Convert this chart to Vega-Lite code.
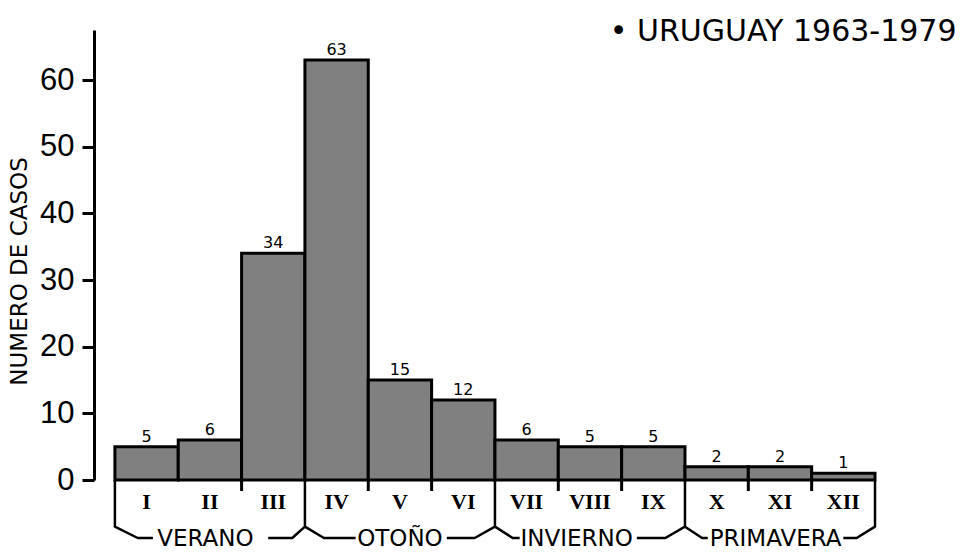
{
  "$schema": "https://vega.github.io/schema/vega-lite/v6.json",
  "autosize": {"type": "none"},
  "padding": {"left": 94, "top": 30, "right": 92, "bottom": 74},
  "width": 781,
  "height": 450,
  "background": "white",
  "config": {"view": {"stroke": null}, "font": "DejaVu Sans"},
  "title": {
    "text": "• URUGUAY 1963-1979",
    "anchor": "end",
    "orient": "top",
    "offset": 0,
    "dx": 80,
    "dy": 41,
    "baseline": "alphabetic",
    "font": "DejaVu Sans",
    "fontSize": 30,
    "fontWeight": "normal",
    "color": "black"
  },
  "datasets": {
    "meses": [
      {"mes": "I", "desde": 0, "hasta": 1, "centro": 0.5, "casos": 5},
      {"mes": "II", "desde": 1, "hasta": 2, "centro": 1.5, "casos": 6},
      {"mes": "III", "desde": 2, "hasta": 3, "centro": 2.5, "casos": 34},
      {"mes": "IV", "desde": 3, "hasta": 4, "centro": 3.5, "casos": 63},
      {"mes": "V", "desde": 4, "hasta": 5, "centro": 4.5, "casos": 15},
      {"mes": "VI", "desde": 5, "hasta": 6, "centro": 5.5, "casos": 12},
      {"mes": "VII", "desde": 6, "hasta": 7, "centro": 6.5, "casos": 6},
      {"mes": "VIII", "desde": 7, "hasta": 8, "centro": 7.5, "casos": 5},
      {"mes": "IX", "desde": 8, "hasta": 9, "centro": 8.5, "casos": 5},
      {"mes": "X", "desde": 9, "hasta": 10, "centro": 9.5, "casos": 2},
      {"mes": "XI", "desde": 10, "hasta": 11, "centro": 10.5, "casos": 2},
      {"mes": "XII", "desde": 11, "hasta": 12, "centro": 11.5, "casos": 1}
    ],
    "divisiones": [
      {"b": 2}, {"b": 4}, {"b": 5}, {"b": 7}, {"b": 8}, {"b": 10}, {"b": 11}
    ],
    "estaciones": [
      {"estacion": "VERANO", "centro": 1.43},
      {"estacion": "OTOÑO", "centro": 4.5},
      {"estacion": "INVIERNO", "centro": 7.29},
      {"estacion": "PRIMAVERA", "centro": 10.43}
    ],
    "llaves": [
      {"seg": "VER-L", "k": 0, "u": 0, "v": 0},
      {"seg": "VER-L", "k": 1, "u": 0, "v": -7.0},
      {"seg": "VER-L", "k": 2, "u": 0.36, "v": -8.7},
      {"seg": "VER-L", "k": 3, "u": 0.6, "v": -8.7},
      {"seg": "VER-R", "k": 0, "u": 2.42, "v": -8.7},
      {"seg": "VER-R", "k": 1, "u": 2.8, "v": -8.7},
      {"seg": "VER-R", "k": 2, "u": 3, "v": -7.0},
      {"seg": "VER-R", "k": 3, "u": 3, "v": 0},
      {"seg": "OTO-L", "k": 0, "u": 3, "v": -7.0},
      {"seg": "OTO-L", "k": 1, "u": 3.3, "v": -8.7},
      {"seg": "OTO-L", "k": 2, "u": 3.8, "v": -8.7},
      {"seg": "OTO-R", "k": 0, "u": 5.24, "v": -8.7},
      {"seg": "OTO-R", "k": 1, "u": 5.68, "v": -8.7},
      {"seg": "OTO-R", "k": 2, "u": 6, "v": -7.0},
      {"seg": "OTO-R", "k": 3, "u": 6, "v": 0},
      {"seg": "INV-L", "k": 0, "u": 6, "v": -7.0},
      {"seg": "INV-L", "k": 1, "u": 6.28, "v": -8.7},
      {"seg": "INV-L", "k": 2, "u": 6.39, "v": -8.7},
      {"seg": "INV-R", "k": 0, "u": 8.24, "v": -8.7},
      {"seg": "INV-R", "k": 1, "u": 8.69, "v": -8.7},
      {"seg": "INV-R", "k": 2, "u": 9, "v": -7.0},
      {"seg": "INV-R", "k": 3, "u": 9, "v": 0},
      {"seg": "PRI-L", "k": 0, "u": 9, "v": -7.0},
      {"seg": "PRI-L", "k": 1, "u": 9.27, "v": -8.7},
      {"seg": "PRI-L", "k": 2, "u": 9.36, "v": -8.7},
      {"seg": "PRI-R", "k": 0, "u": 11.5, "v": -8.7},
      {"seg": "PRI-R", "k": 1, "u": 11.71, "v": -8.7},
      {"seg": "PRI-R", "k": 2, "u": 12, "v": -7.0},
      {"seg": "PRI-R", "k": 3, "u": 12, "v": 0}
    ]
  },
  "layer": [
    {
      "data": {"name": "meses"},
      "mark": {"type": "rect", "fill": "#808080", "stroke": "black", "strokeWidth": 3},
      "encoding": {
        "x": {"field": "desde", "type": "quantitative", "scale": {"domain": [-0.33, 12], "nice": false, "zero": false}, "axis": null},
        "x2": {"field": "hasta"},
        "y": {
          "field": "casos",
          "type": "quantitative",
          "scale": {"domain": [0, 67.5], "nice": false},
          "axis": {
            "title": "NUMERO DE CASOS",
            "values": [0, 5, 10, 15, 20, 25, 30, 35, 40, 45, 50, 55, 60, 65],
            "labelExpr": "datum.value % 10 === 0 ? datum.label : ''",
            "grid": false,
            "domainColor": "black",
            "domainWidth": 3,
            "tickColor": "black",
            "tickWidth": 3,
            "tickSize": 12,
            "labelFont": "Liberation Sans",
            "labelFontSize": 31,
            "labelColor": "black",
            "labelPadding": 8,
            "titleFont": "DejaVu Sans",
            "titleFontSize": 23,
            "titleFontWeight": "normal",
            "titleColor": "black",
            "titleX": -75,
            "titleY": 241,
            "titleAngle": -90,
            "titleAlign": "center",
            "titleBaseline": "middle"
          }
        },
        "y2": {"datum": 0}
      }
    },
    {
      "data": {"name": "meses"},
      "mark": {"type": "text", "baseline": "alphabetic", "dy": -5, "fontSize": 16, "font": "DejaVu Sans", "color": "black"},
      "encoding": {
        "x": {"field": "centro", "type": "quantitative", "scale": {"domain": [-0.33, 12], "nice": false, "zero": false}, "axis": null},
        "y": {"field": "casos", "type": "quantitative", "scale": {"domain": [0, 67.5], "nice": false}},
        "text": {"field": "casos", "type": "quantitative"}
      }
    },
    {
      "data": {"name": "meses"},
      "mark": {"type": "text", "baseline": "middle", "fontSize": 22, "font": "Liberation Serif", "fontWeight": "bold", "color": "black"},
      "encoding": {
        "x": {"field": "centro", "type": "quantitative", "scale": {"domain": [-0.33, 12], "nice": false, "zero": false}, "axis": null},
        "y": {"datum": -3.3, "type": "quantitative", "scale": {"domain": [0, 67.5], "nice": false}},
        "text": {"field": "mes", "type": "nominal"}
      }
    },
    {
      "data": {"name": "divisiones"},
      "mark": {"type": "rule", "stroke": "black", "strokeWidth": 3},
      "encoding": {
        "x": {"field": "b", "type": "quantitative", "scale": {"domain": [-0.33, 12], "nice": false, "zero": false}, "axis": null},
        "y": {"datum": 0, "type": "quantitative", "scale": {"domain": [0, 67.5], "nice": false}},
        "y2": {"datum": -1.65}
      }
    },
    {
      "data": {"name": "llaves"},
      "mark": {"type": "line", "stroke": "black", "strokeWidth": 2.5, "strokeJoin": "round"},
      "encoding": {
        "x": {"field": "u", "type": "quantitative", "scale": {"domain": [-0.33, 12], "nice": false, "zero": false}, "axis": null},
        "y": {"field": "v", "type": "quantitative", "scale": {"domain": [0, 67.5], "nice": false}},
        "detail": {"field": "seg", "type": "nominal"},
        "order": {"field": "k", "type": "quantitative"}
      }
    },
    {
      "data": {"name": "estaciones"},
      "mark": {"type": "text", "baseline": "middle", "fontSize": 23, "font": "DejaVu Sans", "color": "black"},
      "encoding": {
        "x": {"field": "centro", "type": "quantitative", "scale": {"domain": [-0.33, 12], "nice": false, "zero": false}, "axis": null},
        "y": {"datum": -8.8, "type": "quantitative", "scale": {"domain": [0, 67.5], "nice": false}},
        "text": {"field": "estacion", "type": "nominal"}
      }
    }
  ]
}
